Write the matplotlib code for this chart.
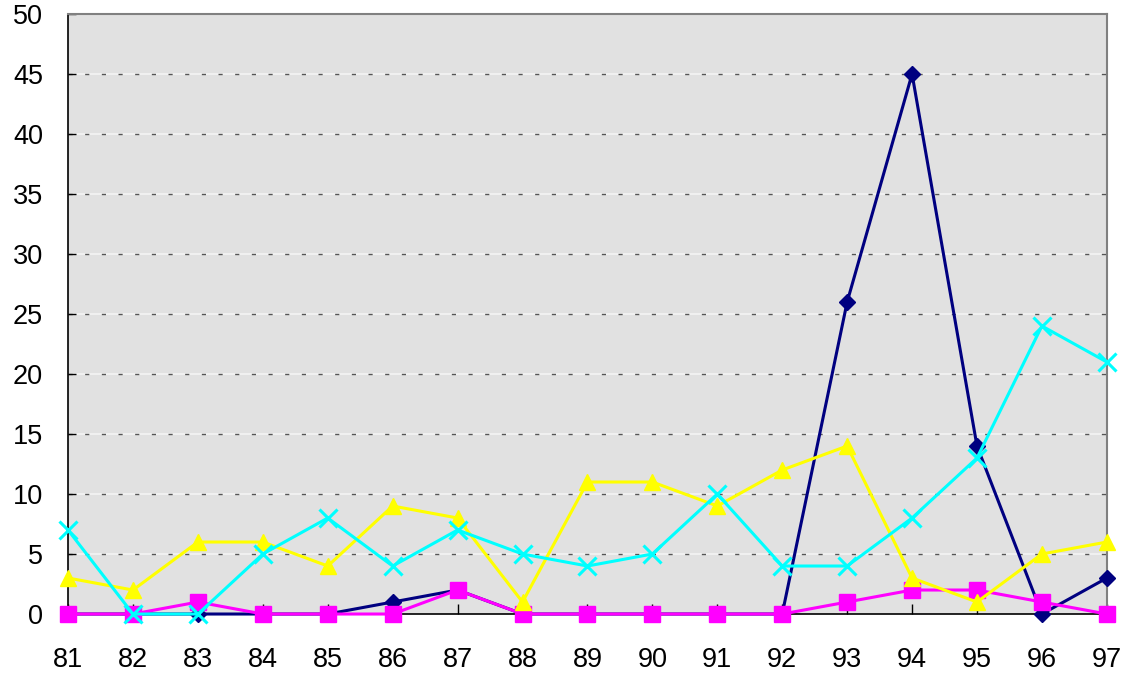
import matplotlib
matplotlib.use("Agg")
import matplotlib.pyplot as plt
import numpy as np

years = ["81", "82", "83", "84", "85", "86", "87", "88", "89", "90", "91", "92", "93", "94", "95", "96", "97"]
navy_vals = [0, 0, 0, 0, 0, 1, 2, 0, 0, 0, 0, 0, 26, 45, 14, 0, 3]
magenta_vals = [0, 0, 1, 0, 0, 0, 2, 0, 0, 0, 0, 0, 1, 2, 2, 1, 0]
yellow_vals = [3, 2, 6, 6, 4, 9, 8, 1, 11, 11, 9, 12, 14, 3, 1, 5, 6]
cyan_vals = [7, 0, 0, 5, 8, 4, 7, 5, 4, 5, 10, 4, 4, 8, 13, 24, 21]
yticks = [0, 5, 10, 15, 20, 25, 30, 35, 40, 45, 50]

plt.rcParams['font.family'] = ['Liberation Sans', 'DejaVu Sans']

fig = plt.figure(figsize=(11.23, 6.79), dpi=100)
ax = fig.add_axes([0.0606, 0.0957, 0.925, 0.8837])
ax.set_facecolor('#E1E1E1')

x = np.arange(len(years))

for y in yticks[1:-1]:
    ax.axhline(y, color='#F4F4F4', lw=1.2, zorder=1)
    ax.axhline(y, color='#555555', lw=1.0, ls=(0, (3, 9)), zorder=1.1)

kw = dict(clip_on=False, zorder=3, lw=2.2)
ax.plot(x, navy_vals, color='#000080', marker='D', ms=8, **kw)
ax.plot(x, magenta_vals, color='#FF00FF', marker='s', ms=12, **kw)
ax.plot(x, yellow_vals, color='#FFFF00', marker='^', ms=12, **kw)
ax.plot(x, cyan_vals, color='#00FFFF', marker='x', ms=13, mew=2.2, **kw)

ax.set_xlim(0, 16)
ax.set_ylim(0, 50)
ax.set_xticks(x)
ax.set_xticklabels(years)
ax.set_yticks(yticks)
ax.tick_params(axis='x', direction='in', length=7, width=1, pad=24, labelsize=19.5)
ax.tick_params(axis='y', direction='in', length=6, width=1, pad=18, labelsize=19.5)
for s in ['left', 'bottom']:
    ax.spines[s].set_color('black')
    ax.spines[s].set_linewidth(1.2)
for s in ['top', 'right']:
    ax.spines[s].set_color('#808080')
    ax.spines[s].set_linewidth(1.5)

fig.savefig('out.png', dpi=100)
